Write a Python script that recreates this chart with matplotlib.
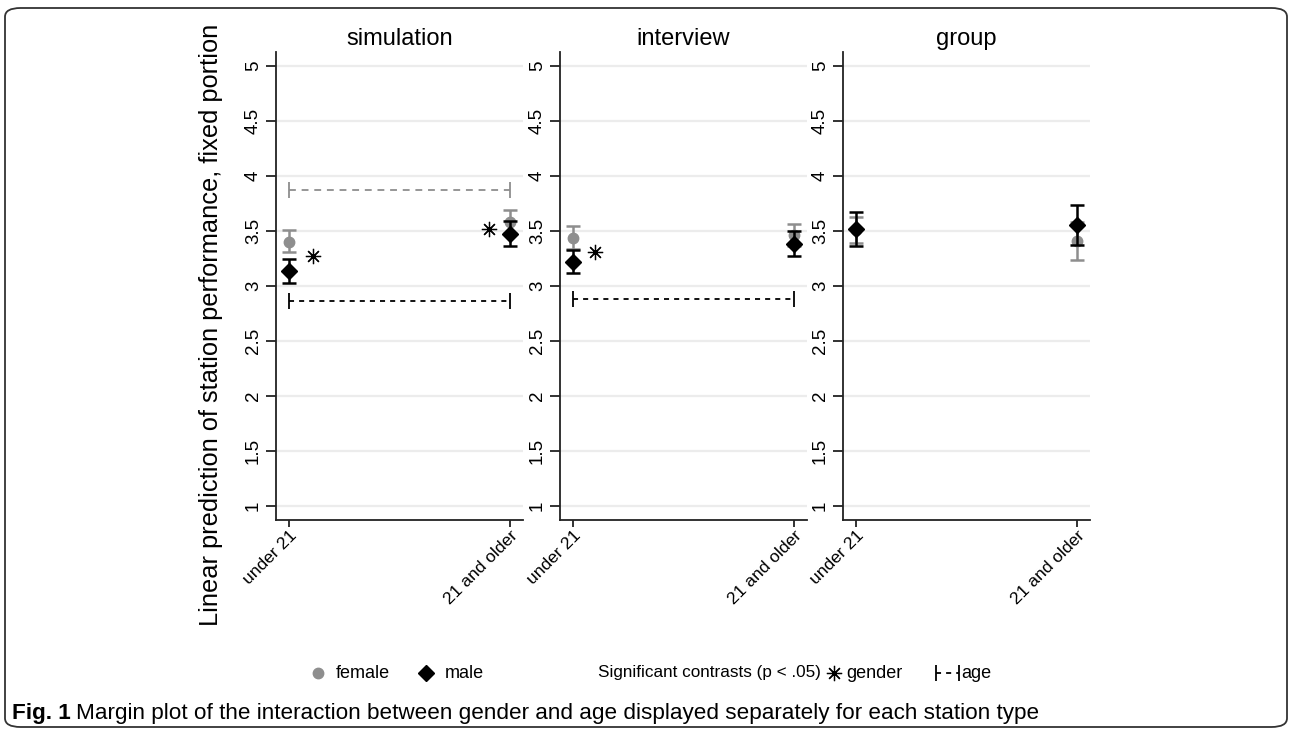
import numpy as np
import matplotlib.pyplot as plt
from matplotlib.lines import Line2D
from matplotlib.patches import FancyBboxPatch

plt.rcParams['font.family'] = ['Liberation Sans', 'DejaVu Sans']

# ---- data ----
panels = ["simulation", "interview", "group"]
age_groups = ["under 21", "21 and older"]
yticks = [1, 1.5, 2, 2.5, 3, 3.5, 4, 4.5, 5]

female_mean = [[3.40, 3.585], [3.44, 3.46], [3.51, 3.41]]
female_lo = [[3.305, 3.48], [3.335, 3.36], [3.39, 3.24]]
female_hi = [[3.505, 3.69], [3.545, 3.56], [3.63, 3.58]]

male_mean = [[3.14, 3.475], [3.22, 3.385], [3.515, 3.555]]
male_lo = [[3.03, 3.36], [3.115, 3.27], [3.365, 3.37]]
male_hi = [[3.245, 3.59], [3.33, 3.50], [3.67, 3.74]]

# significant gender contrasts: marker position per panel
gender_sig_x = [[0.11, 0.905], [0.10], []]
gender_sig_y = [[3.27, 3.515], [3.31], []]

# significant age contrasts: bracket height and which gender
age_sig_y = [[3.87, 2.866], [2.88], []]
age_sig_sex = [["female", "male"], ["male"], []]

GRAY = "#8e8e8e"
BLACK = "#000000"
STAR = (8, 2, 0)

W, H = 1292, 732
fig = plt.figure(figsize=(W / 100, H / 100), dpi=100)


def fx(px):
    return px / W


def fy(py):
    return 1 - py / H


ax_left = [276, 560, 843]
ax_w, ax_top, ax_bot = 247, 52, 520

for i, name in enumerate(panels):
    ax = fig.add_axes([fx(ax_left[i]), fy(ax_bot), ax_w / W, (ax_bot - ax_top) / H])
    x = np.arange(len(age_groups))

    fm, mm = np.array(female_mean[i]), np.array(male_mean[i])
    ax.errorbar(x, fm, yerr=[fm - np.array(female_lo[i]), np.array(female_hi[i]) - fm],
                fmt="o", color=GRAY, ms=7.5, capsize=5, elinewidth=1.8,
                capthick=1.8, zorder=3)
    ax.errorbar(x, mm, yerr=[mm - np.array(male_lo[i]), np.array(male_hi[i]) - mm],
                fmt="D", color=BLACK, ms=8, capsize=5, elinewidth=1.8,
                capthick=1.8, zorder=4)

    for sx, sy in zip(gender_sig_x[i], gender_sig_y[i]):
        ax.plot(sx, sy, ls="none", marker=STAR, ms=11, mew=0.9,
                color=BLACK, zorder=4)

    for ay, sex in zip(age_sig_y[i], age_sig_sex[i]):
        c = GRAY if sex == "female" else BLACK
        dash = (0, (3.8, 3.2)) if sex == "female" else (0, (2.8, 2.8))
        ax.plot(x, [ay, ay], ls=dash, color=c, lw=1.3, zorder=3)
        ax.plot(x, [ay, ay], ls="none", marker="|", ms=12, mew=1.3, color=c, zorder=3)

    ax.set_xlim(-0.06, 1.06)
    ax.set_ylim(0.873, 5.127)
    ax.set_yticks(yticks)
    ax.set_yticklabels([f"{t:g}" for t in yticks], rotation=90, va="center",
                       fontsize=13.5)
    ax.set_xticks(x)
    ax.set_xticklabels(age_groups, rotation=45, ha="right", va="top",
                       rotation_mode="anchor", fontsize=12.5)
    ax.tick_params(axis="y", length=7, width=1.3, pad=3, color="#222222")
    ax.tick_params(axis="x", length=5, width=1.3, pad=1, color="#222222")
    ax.set_axisbelow(True)
    ax.yaxis.grid(True, color="#ececec", lw=1.6)
    for s in ["top", "right"]:
        ax.spines[s].set_visible(False)
    for s in ["left", "bottom"]:
        ax.spines[s].set_linewidth(1.3)
        ax.spines[s].set_color("#222222")
    ax.set_title(name, fontsize=17, pad=5)

fig.text(fx(211), fy(325), "Linear prediction of station performance, fixed portion",
         rotation=90, ha="center", va="center", fontsize=18.3)

# ---- legend row ----
ly = fy(673)
fs = 13
fig.add_artist(Line2D([fx(318)], [ly], marker="o", color=GRAY, ms=7.5,
                      transform=fig.transFigure))
fig.text(fx(336), ly, "female", va="center", fontsize=fs)
fig.add_artist(Line2D([fx(426)], [ly], marker="D", color=BLACK, ms=8,
                      transform=fig.transFigure))
fig.text(fx(445), ly, "male", va="center", fontsize=fs)
fig.text(fx(598), ly, "Significant contrasts (p < .05)", va="center", fontsize=12.3)
fig.add_artist(Line2D([fx(834)], [ly], marker=STAR, ms=11, mew=0.9,
                      color=BLACK, transform=fig.transFigure))
fig.text(fx(846), ly, "gender", va="center", fontsize=fs)
fig.add_artist(Line2D([fx(936), fx(959)], [ly, ly], ls=(0, (2.8, 2.8)), lw=1.3,
                      color=BLACK, transform=fig.transFigure))
fig.add_artist(Line2D([fx(936), fx(959)], [ly, ly], ls="none", marker="|", ms=12,
                      mew=1.3, color=BLACK, transform=fig.transFigure))
fig.text(fx(961), ly, "age", va="center", fontsize=fs)

# ---- caption ----
cy = fy(713)
t1 = fig.text(fx(12), cy, "Fig. 1", va="center", fontsize=16.2, weight="bold")
renderer = fig.canvas.get_renderer()
bb = t1.get_window_extent(renderer)
fig.text(bb.x1 / W + fx(5), cy,
         "Margin plot of the interaction between gender and age displayed separately for each station type",
         va="center", fontsize=16.2)

# ---- outer frame ----
fig.add_artist(FancyBboxPatch((fx(5), fy(727)), fx(1282), (727 - 8) / H,
                              boxstyle="round,pad=0,rounding_size=0.012",
                              transform=fig.transFigure, fill=False,
                              edgecolor="#333333", lw=1.3))

fig.savefig("out.png", dpi=100)
